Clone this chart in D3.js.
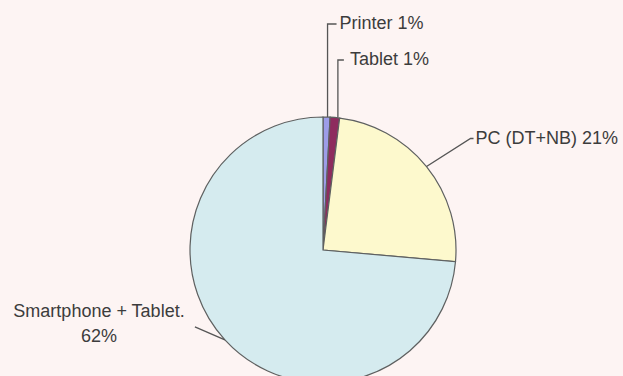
<!DOCTYPE html>
<html>
    <head>
        <meta charset="utf-8">
        <script src="https://d3js.org/d3.v7.min.js"></script>
        <style>
            body { margin: 0; background: #fdf4f3; }
            text { font-family: "Liberation Sans", Arial, sans-serif; font-size: 18px; fill: #3c3c3c; }
        </style>
    </head>
    <body>
        <div id="container"></div>
        <script>
            // Data
            const categories = ["Printer", "Tablet", "PC (DT+NB)", "Smartphone + Tablet."]
            const shares = [0.85, 1.15, 24.4, 73.6]      // slice sizes as drawn
            const labels = ["1%", "1%", "21%", "62%"]      // printed labels
            const colors = ["#9d9de8", "#8e2c5e", "#fdf9cd", "#d5ebef"]

            const w = 623
            const h = 376
            const cx = 323
            const cy = 250
            const r = 133

            const svg = d3.select("#container")
                .append("svg")
                .attr("width", w)
                .attr("height", h)

            const data = categories.map((c, i) => ({ name: c, value: shares[i], label: labels[i], color: colors[i] }))

            const pie = d3.pie().sort(null).value(d => d.value)
            const arcs = pie(data)
            const arc = d3.arc().innerRadius(0).outerRadius(r)

            const g = svg.append("g").attr("transform", `translate(${cx},${cy})`)

            g.selectAll("path")
                .data(arcs)
                .enter()
                .append("path")
                .attr("d", arc)
                .attr("fill", d => d.data.color)
                .attr("stroke", "#5e6060")
                .attr("stroke-width", 1.2)

            // point on the rim at the middle of a slice
            const rim = (d, rr) => {
                const a = (d.startAngle + d.endAngle) / 2
                return [cx + Math.sin(a) * rr, cy - Math.cos(a) * rr]
            }

            const lineColor = "#555"

            // Printer & Tablet: vertical leaders up from the top of the pie
            const topLabels = [
                { i: 0, y: 24, dx: 9, gap: 3 },
                { i: 1, y: 60, dx: 6, gap: 6 }
            ]
            topLabels.forEach(t => {
                const d = arcs[t.i]
                const [x0, y0] = rim(d, r)
                const xs = x0 + (t.i === 1 ? 3 : 1)
                svg.append("polyline")
                    .attr("points", `${xs},${y0} ${xs},${t.y} ${xs + t.dx},${t.y}`)
                    .attr("fill", "none")
                    .attr("stroke", lineColor)
                    .attr("stroke-width", 1.3)
                svg.append("text")
                    .attr("x", xs + t.dx + t.gap)
                    .attr("y", t.y)
                    .attr("dominant-baseline", "middle")
                    .text(`${d.data.name} ${d.data.label}`)
            })

            // PC label
            {
                const d = arcs[2]
                const [x0, y0] = rim(d, r)
                svg.append("polyline")
                    .attr("points", `${x0},${y0} ${x0 + 44},${y0 - 28} ${x0 + 47},${y0 - 28}`)
                    .attr("fill", "none")
                    .attr("stroke", lineColor)
                    .attr("stroke-width", 1.3)
                svg.append("text")
                    .attr("x", x0 + 49)
                    .attr("y", y0 - 27)
                    .attr("dominant-baseline", "middle")
                    .text(`${d.data.name} ${d.data.label}`)
            }

            // Smartphone label
            {
                const d = arcs[3]
                const [x0, y0] = rim(d, r)
                svg.append("line")
                    .attr("x1", x0).attr("y1", y0)
                    .attr("x2", x0 - 30).attr("y2", y0 - 13)
                    .attr("stroke", lineColor)
                    .attr("stroke-width", 1.3)
                const t = svg.append("text")
                    .attr("text-anchor", "middle")
                    .attr("x", 99)
                    .attr("y", 317)
                t.append("tspan").attr("x", 99).text(d.data.name)
                t.append("tspan").attr("x", 99).attr("dy", 25).text(d.data.label)
            }
        </script>
    </body>
</html>
